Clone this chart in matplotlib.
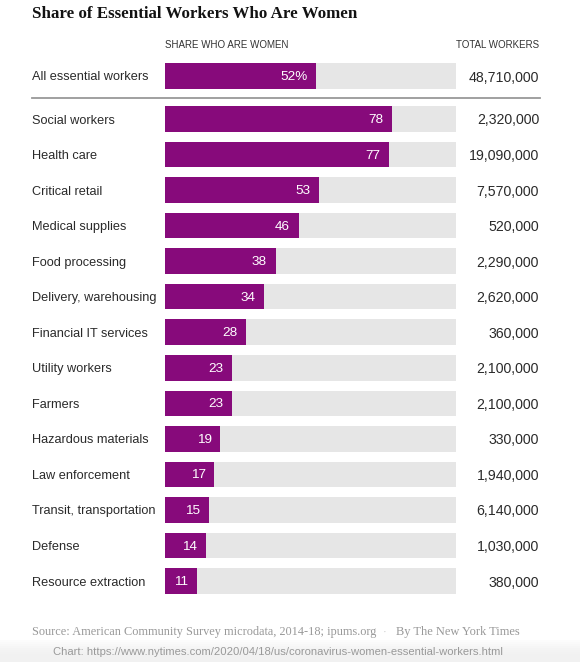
import matplotlib
matplotlib.use('Agg')
import matplotlib.pyplot as plt
from matplotlib.lines import Line2D
from matplotlib.patches import Rectangle

categories = ['All essential workers', 'Social workers', 'Health care', 'Critical retail',
              'Medical supplies', 'Food processing', 'Delivery, warehousing',
              'Financial IT services', 'Utility workers', 'Farmers', 'Hazardous materials',
              'Law enforcement', 'Transit, transportation', 'Defense', 'Resource extraction']
share_women = [52, 78, 77, 53, 46, 38, 34, 28, 23, 23, 19, 17, 15, 14, 11]
total_workers = [48710000, 2320000, 19090000, 7570000, 520000, 2290000, 2620000,
                 360000, 2100000, 2100000, 330000, 1940000, 6140000, 1030000, 380000]

W, H = 580, 662
purple = '#870a7b'
track = '#e6e6e6'
sans = 'Liberation Sans'
dark = '#2a2a2a'

fig = plt.figure(figsize=(W / 100, H / 100), dpi=100)
fig.patch.set_facecolor('white')

# light grey band at the bottom (screenshot edge), soft gradient
for k in range(8):
    y0 = 1 - (640 + k * 2) / H
    fig.patches.append(Rectangle((0, 0), 1, y0, transform=fig.transFigure,
                                 color='#ececec', alpha=0.12, zorder=0, lw=0))

# row layout: one data unit = one row spacing
row_px = 35.54
gap = 43 / row_px
ypos = [-gap] + list(range(len(categories) - 1))
top_px = 76 - row_px / 2
bot_px = 119 + 13 * row_px + row_px / 2
ax = fig.add_axes([165 / W, 1 - bot_px / H, 291 / W, (bot_px - top_px) / H])
ax.set_xlim(0, 100)
ax.set_ylim(len(categories) - 1.5, -gap - 0.5)
ax.axis('off')

bh = 25.5 / row_px
ax.barh(ypos, [100] * len(ypos), height=bh, color=track, zorder=1)
ax.barh(ypos, share_women, height=bh, color=purple, zorder=2)

for i, (y, v) in enumerate(zip(ypos, share_women)):
    lab = f'{v}%' if i == 0 else str(v)
    ax.text(v - 3.0, y + 0.03, lab, ha='right', va='center', color='white',
            fontsize=9.7, family=sans, zorder=3)
    # category name and total on the figure edges
    yf = 1 - (76 + 1.5 + (y + gap) * row_px) / H
    fig.text(32 / W, yf, categories[i], ha='left', va='center', fontsize=9.2,
             family=sans, color=dark)
    fig.text(539 / W, yf, f'{total_workers[i]:,}', ha='right', va='center',
             fontsize=10.2, family=sans, color=dark)

fig.text(32 / W, 1 - 14 / H, 'Share of Essential Workers Who Are Women', ha='left',
         va='center', fontsize=12.2, fontweight='bold', family='Liberation Serif',
         color='#121212')
fig.text(165 / W, 1 - 45 / H, 'SHARE WHO ARE WOMEN', ha='left', va='center',
         fontsize=7, family=sans, color='#333333')
fig.text(539 / W, 1 - 45 / H, 'TOTAL WORKERS', ha='right', va='center',
         fontsize=7, family=sans, color='#333333')

fig.lines.append(Line2D([32 / W, 540 / W], [1 - 98 / H, 1 - 98 / H],
                        transform=fig.transFigure, color='#999999', linewidth=1.3))

fig.text(32 / W, 1 - 632 / H,
         'Source: American Community Survey microdata, 2014-18; ipums.org',
         ha='left', va='center', fontsize=8.8, family='Liberation Serif', color='#999999')
fig.text(385 / W, 1 - 632 / H, '\u00b7', ha='center', va='center', fontsize=8,
         family='Liberation Serif', color='#cccccc')
fig.text(396 / W, 1 - 632 / H, 'By The New York Times', ha='left', va='center',
         fontsize=9.0, family='Liberation Serif', color='#999999')
fig.text(278 / W, 1 - 652 / H,
         'Chart: https://www.nytimes.com/2020/04/18/us/coronavirus-women-essential-workers.html',
         ha='center', va='center', fontsize=8.1, family=sans, color='#999999')

fig.savefig('out.png', dpi=100)
